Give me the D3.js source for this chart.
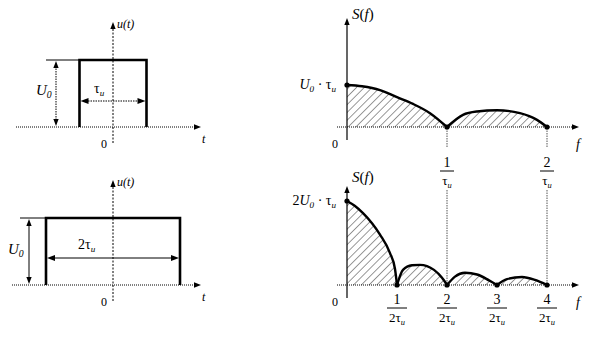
<!DOCTYPE html>
<html>
<head>
<meta charset="utf-8">
<script src="https://cdn.jsdelivr.net/npm/d3@7"></script>
<style>
  body { margin: 0; background: #fff; }
</style>
</head>
<body>
<div id="chart"></div>
<script>
// Импульсы (в единицах tau_и, амплитуда в U0)
const pulseTop = { from: -0.5, to: 0.5, amp: 1 };
const pulseBottom = { from: -1, to: 1, amp: 1 };

// Спектр короткого импульса: лепестки [f·tau_и, S/(U0·tau_и)]
const specTopLobes = [
  [[0, 1], [0.15, 0.97], [0.33, 0.88], [0.5, 0.71], [0.66, 0.55], [0.83, 0.33], [1, 0]],
  [[1, 0], [1.16, 0.29], [1.3, 0.37], [1.5, 0.4], [1.73, 0.33], [1.9, 0.17], [2, 0]]
];
// Спектр длинного импульса
const specBottomLobes = [
  [[0, 2], [0.08, 1.88], [0.16, 1.71], [0.25, 1.47], [0.33, 1.2], [0.43, 0.76], [0.48, 0.38], [0.5, 0]],
  [[0.5, 0], [0.56, 0.36], [0.65, 0.47], [0.73, 0.48], [0.87, 0.36], [0.95, 0.17], [1, 0]],
  [[1, 0], [1.08, 0.2], [1.18, 0.29], [1.3, 0.25], [1.42, 0.11], [1.5, 0]],
  [[1.5, 0], [1.6, 0.14], [1.75, 0.19], [1.88, 0.12], [2, 0]]
];
const topTicks = [{ v: 1, num: "1", den: "" }, { v: 2, num: "2", den: "" }];
const bottomTicks = [
  { v: 0.5, num: "1", den: "2" }, { v: 1, num: "2", den: "2" },
  { v: 1.5, num: "3", den: "2" }, { v: 2, num: "4", den: "2" }
];

const W = 593, H = 363;
const FONT = "'Liberation Serif', 'Times New Roman', 'DejaVu Serif', serif";
const svg = d3.select("#chart").append("svg").attr("width", W).attr("height", H)
  .attr("font-family", FONT);

const defs = svg.append("defs");
const hatch = defs.append("pattern")
  .attr("id", "hatch").attr("patternUnits", "userSpaceOnUse")
  .attr("width", 5.5).attr("height", 5.5)
  .attr("patternTransform", "rotate(45)");
hatch.append("line").attr("x1", 0).attr("y1", 0).attr("x2", 0).attr("y2", 5.5)
  .attr("stroke", "#000").attr("stroke-width", 0.8);

function arrowHead(g, x, y, dir, size) {
  // треугольная стрелка, dir: угол в градусах (0 - вправо)
  const s = size || 7;
  g.append("path")
    .attr("d", `M0,0 L${-s},${-s * 0.38} L${-s},${s * 0.38} Z`)
    .attr("transform", `translate(${x},${y}) rotate(${dir})`)
    .attr("fill", "#000");
}

function subText(g, x, y, parts, size, anchor) {
  // parts: [[text, 'n'|'s'|'r', italic]]
  const t = g.append("text").attr("x", x).attr("y", y)
    .attr("font-family", FONT)
    .attr("font-size", size).attr("text-anchor", anchor || "start");
  parts.forEach(p => {
    const ts = t.append("tspan").text(p[0]);
    if (p[2]) ts.attr("font-style", "italic");
    if (p[1] === "s") ts.attr("font-size", size * 0.65).attr("dy", 3);
    if (p[1] === "r") ts.attr("dy", -3);
  });
  return t;
}

function label(g, x, y, txt, size, italic) {
  return g.append("text").attr("x", x).attr("y", y).attr("font-family", FONT)
    .attr("font-size", size).attr("font-style", italic ? "italic" : "normal").text(txt);
}

// ---------- временные панели ----------
function pulsePanel(p, y0, opts) {
  const x = d3.scaleLinear().domain([0, 1]).range([113, 180]);
  const y = d3.scaleLinear().domain([0, 1]).range([y0, y0 - 67]);
  const g = svg.append("g");

  // ось t
  g.append("line").attr("x1", opts.axisFrom).attr("x2", 197).attr("y1", y(0)).attr("y2", y(0))
    .attr("stroke", "#000").attr("stroke-width", 1).attr("stroke-dasharray", "1,1");
  arrowHead(g, 201, y(0), 0);
  // ось u
  g.append("line").attr("x1", x(0)).attr("x2", x(0)).attr("y1", y0 + 16).attr("y2", y0 - 100)
    .attr("stroke", "#000").attr("stroke-width", 1).attr("stroke-dasharray", "2,1.5");
  arrowHead(g, x(0), y0 - 105, -90);

  // импульс
  g.append("path")
    .attr("d", d3.line()([[x(p.from), y(0)], [x(p.from), y(p.amp)], [x(p.to), y(p.amp)], [x(p.to), y(0)]]))
    .attr("fill", "none").attr("stroke", "#000").attr("stroke-width", 2.6);

  // выноска амплитуды
  g.append("line").attr("x1", opts.extFrom).attr("x2", x(p.from)).attr("y1", y(p.amp)).attr("y2", y(p.amp))
    .attr("stroke", "#000").attr("stroke-width", 1);
  g.append("line").attr("x1", opts.ampX).attr("x2", opts.ampX).attr("y1", y(p.amp) + 6).attr("y2", y(0) - 6)
    .attr("stroke", "#000").attr("stroke-width", 1).attr("stroke-dasharray", opts.dash);
  arrowHead(g, opts.ampX, y(p.amp) + 1, -90, 7);
  arrowHead(g, opts.ampX, y(0) - 1, 90, 7);

  // длительность
  const yd = y0 - opts.durOffset;
  g.append("line").attr("x1", x(p.from) + 6).attr("x2", x(p.to) - 6).attr("y1", yd).attr("y2", yd)
    .attr("stroke", "#000").attr("stroke-width", 1).attr("stroke-dasharray", opts.dash);
  arrowHead(g, x(p.from) + 1, yd, 180, 8);
  arrowHead(g, x(p.to) - 1, yd, 0, 8);

  // подписи
  subText(g, opts.uX, y0 - opts.uY, [["U", "n", true], ["0", "s", true]], 15);
  subText(g, opts.durX, y0 - opts.durY, opts.durText, 14);
  label(g, x(0) - 12, y0 + 21, "0", 12, false);
  label(g, 202, y0 + 16, "t", 12, true);
  label(g, x(0) + 4, y0 - 99, "u(t)", 12, true);
}

pulsePanel(pulseTop, 127, {
  axisFrom: 16, extFrom: 46, ampX: 56, dash: "1.5,1", durOffset: 26,
  uX: 36, uY: 32, durX: 94, durY: 34,
  durText: [["τ", "n", false], ["и", "s", true]]
});
pulsePanel(pulseBottom, 285, {
  axisFrom: 12, extFrom: 20, ampX: 29, dash: null, durOffset: 27,
  uX: 8, uY: 31, durX: 78, durY: 36,
  durText: [["2τ", "n", false], ["и", "s", true]]
});

// ---------- спектральные панели ----------
function specPanel(lobes, ticks, y0, opts) {
  const x = d3.scaleLinear().domain([0, 2]).range([347, 547]);
  const y = d3.scaleLinear().domain([0, 1]).range([y0, y0 - 42]);
  const g = svg.append("g");

  // штриховка
  lobes.forEach(l => {
    g.append("path")
      .attr("d", d3.area().x(d => x(d[0])).y0(y(0)).y1(d => y(d[1])).curve(d3.curveMonotoneX)(l))
      .attr("fill", "url(#hatch)");
  });

  // ось f
  g.append("line").attr("x1", 337).attr("x2", 574).attr("y1", y(0)).attr("y2", y(0))
    .attr("stroke", "#000").attr("stroke-width", 1).attr("stroke-dasharray", "1,1");
  arrowHead(g, 579, y(0), 0);
  // ось S
  g.append("line").attr("x1", x(0)).attr("x2", x(0)).attr("y1", y0 + 13).attr("y2", opts.axisTop + 4)
    .attr("stroke", "#000").attr("stroke-width", 1.2);
  arrowHead(g, x(0), opts.axisTop, -90);

  // вертикальные пунктиры
  opts.guides.forEach(gd => {
    g.append("line").attr("x1", x(gd.v)).attr("x2", x(gd.v)).attr("y1", gd.y1).attr("y2", gd.y2)
      .attr("stroke", "#555").attr("stroke-width", 1).attr("stroke-dasharray", "1.5,1");
  });

  // кривая
  lobes.forEach(l => {
    g.append("path")
      .attr("d", d3.line().x(d => x(d[0])).y(d => y(d[1])).curve(d3.curveMonotoneX)(l))
      .attr("fill", "none").attr("stroke", "#000").attr("stroke-width", 2.4);
  });
  // точки
  const dots = [lobes[0][0]].concat(lobes.map(l => l[l.length - 1]));
  g.selectAll("circle.pt").data(dots).join("circle")
    .attr("cx", d => x(d[0])).attr("cy", d => y(d[1])).attr("r", 2.6).attr("fill", "#000");

  // подписи по оси f (дроби)
  ticks.forEach(t => {
    const cx = x(t.v);
    g.append("text").attr("x", cx).attr("y", opts.numY).attr("font-size", 14)
      .attr("font-family", FONT).attr("text-anchor", "middle").text(t.num);
    const bw = t.den ? 10 : 7;
    g.append("line").attr("x1", cx - bw).attr("x2", cx + bw).attr("y1", opts.numY + 4).attr("y2", opts.numY + 4)
      .attr("stroke", "#000").attr("stroke-width", 1);
    subText(g, cx, opts.numY + 18, [[t.den + "τ", "n", false], ["и", "s", true]], 13, "middle");
  });

  label(g, 332, y0 + 21, "0", 12, false);
  label(g, 576, y0 + 22, "f", 14, true);
  const sf = g.append("text").attr("x", 352).attr("y", opts.sY).attr("font-size", 15).attr("font-family", FONT);
  sf.append("tspan").attr("font-style", "italic").text("S");
  sf.append("tspan").text("(");
  sf.append("tspan").attr("font-style", "italic").text("f");
  sf.append("tspan").text(")");

  const yl = y(lobes[0][0][1]) + 4;
  subText(g, 336, yl, opts.valText, 14, "end");
}

specPanel(specTopLobes, topTicks, 127, {
  axisTop: 18, numY: 167, sY: 19,
  guides: [{ v: 1, y1: 128, y2: 147 }, { v: 2, y1: 128, y2: 147 }],
  valText: [["U", "n", true], ["0", "s", true], [" · τ", "r", false], ["и", "s", true]]
});
specPanel(specBottomLobes, bottomTicks, 285, {
  axisTop: 186, numY: 304, sY: 182,
  guides: [{ v: 1, y1: 190, y2: 285 }, { v: 2, y1: 190, y2: 285 }],
  valText: [["2", "n", false], ["U", "n", true], ["0", "s", true], [" · τ", "r", false], ["и", "s", true]]
});
</script>
</body>
</html>
